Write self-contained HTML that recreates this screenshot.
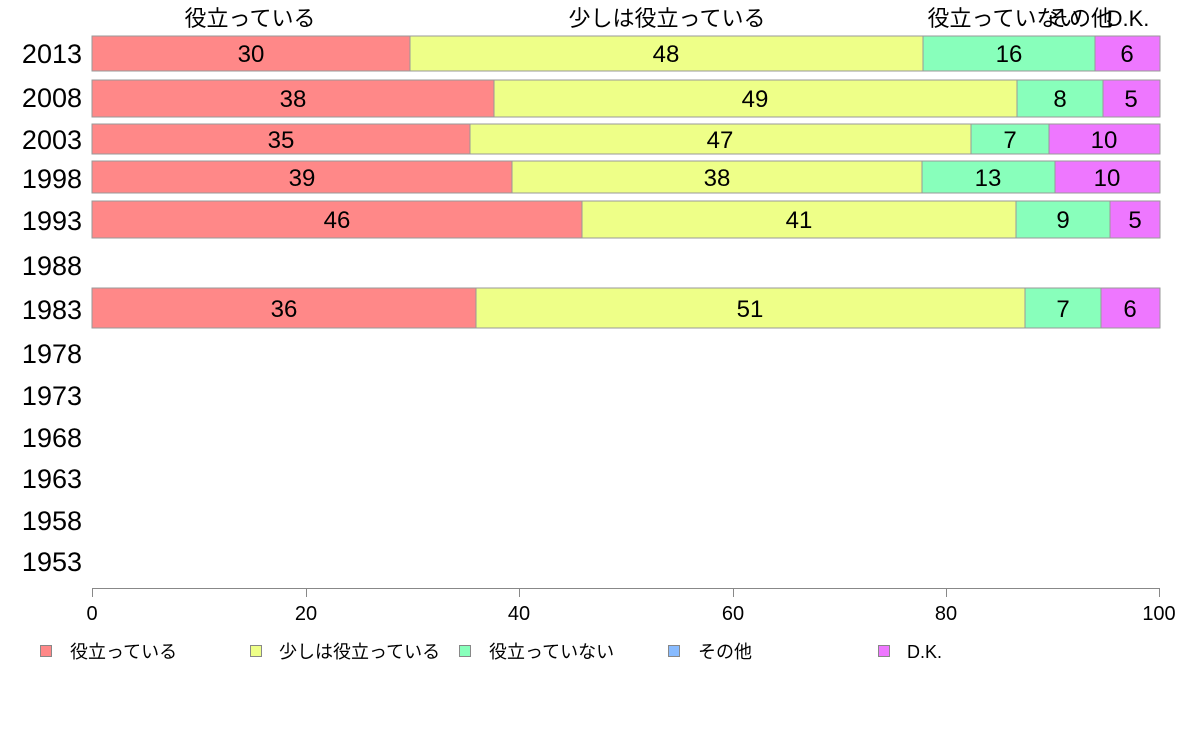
<!DOCTYPE html><html><head><meta charset="utf-8"><style>body{margin:0;background:#fff}</style></head><body>
<svg width="1188" height="736" xmlns="http://www.w3.org/2000/svg" font-family="'Liberation Sans','Noto Sans CJK JP',sans-serif">
<g font-size="22" text-anchor="middle" fill="#000">
<text x="250" y="26">役立っている</text><text x="667" y="26">少しは役立っている</text><text x="1004" y="26">役立っていない</text><text x="1080" y="26">その他</text><text x="1128" y="26">D.K.</text>
</g>
<g font-size="27" text-anchor="end" fill="#000">
<text x="82" y="63">2013</text><text x="82" y="107">2008</text><text x="82" y="149">2003</text><text x="82" y="188">1998</text><text x="82" y="230">1993</text><text x="82" y="275">1988</text><text x="82" y="319">1983</text><text x="82" y="363">1978</text><text x="82" y="405">1973</text><text x="82" y="447">1968</text><text x="82" y="488">1963</text><text x="82" y="530">1958</text><text x="82" y="571">1953</text>
</g>
<g stroke="#999" stroke-width="1">
<g transform="translate(0,36)"><rect x="92" width="318" height="35" fill="#ff8888"/><rect x="410" width="513" height="35" fill="#eeff88"/><rect x="923" width="172" height="35" fill="#88ffbb"/><rect x="1095" width="65" height="35" fill="#ee77ff"/></g>
<g transform="translate(0,80)"><rect x="92" width="402" height="37" fill="#ff8888"/><rect x="494" width="523" height="37" fill="#eeff88"/><rect x="1017" width="86" height="37" fill="#88ffbb"/><rect x="1103" width="57" height="37" fill="#ee77ff"/></g>
<g transform="translate(0,124)"><rect x="92" width="378" height="30" fill="#ff8888"/><rect x="470" width="501" height="30" fill="#eeff88"/><rect x="971" width="78" height="30" fill="#88ffbb"/><rect x="1049" width="111" height="30" fill="#ee77ff"/></g>
<g transform="translate(0,161)"><rect x="92" width="420" height="32" fill="#ff8888"/><rect x="512" width="410" height="32" fill="#eeff88"/><rect x="922" width="133" height="32" fill="#88ffbb"/><rect x="1055" width="105" height="32" fill="#ee77ff"/></g>
<g transform="translate(0,201)"><rect x="92" width="490" height="37" fill="#ff8888"/><rect x="582" width="434" height="37" fill="#eeff88"/><rect x="1016" width="94" height="37" fill="#88ffbb"/><rect x="1110" width="50" height="37" fill="#ee77ff"/></g>
<g transform="translate(0,288)"><rect x="92" width="384" height="40" fill="#ff8888"/><rect x="476" width="549" height="40" fill="#eeff88"/><rect x="1025" width="76" height="40" fill="#88ffbb"/><rect x="1101" width="59" height="40" fill="#ee77ff"/></g>
</g>
<g font-size="24" text-anchor="middle" fill="#000">
<text x="251" y="62">30</text><text x="666" y="62">48</text><text x="1009" y="62">16</text><text x="1127" y="62">6</text>
<text x="293" y="107">38</text><text x="755" y="107">49</text><text x="1060" y="107">8</text><text x="1131" y="107">5</text>
<text x="281" y="148">35</text><text x="720" y="148">47</text><text x="1010" y="148">7</text><text x="1104" y="148">10</text>
<text x="302" y="186">39</text><text x="717" y="186">38</text><text x="988" y="186">13</text><text x="1107" y="186">10</text>
<text x="337" y="228">46</text><text x="799" y="228">41</text><text x="1063" y="228">9</text><text x="1135" y="228">5</text>
<text x="284" y="317">36</text><text x="750" y="317">51</text><text x="1063" y="317">7</text><text x="1130" y="317">6</text>
</g>
<g stroke="#888" stroke-width="1"><line x1="92" y1="588.5" x2="1160" y2="588.5"/>
<line x1="92.5" y1="588" x2="92.5" y2="597"/><line x1="306.5" y1="588" x2="306.5" y2="597"/><line x1="519.5" y1="588" x2="519.5" y2="597"/><line x1="733.5" y1="588" x2="733.5" y2="597"/><line x1="946.5" y1="588" x2="946.5" y2="597"/><line x1="1159.5" y1="588" x2="1159.5" y2="597"/></g>
<g font-size="20" text-anchor="middle" fill="#000"><text x="92" y="620">0</text><text x="306" y="620">20</text><text x="519" y="620">40</text><text x="733" y="620">60</text><text x="946" y="620">80</text><text x="1159" y="620">100</text></g>
<g stroke="#888" stroke-width="1"><rect x="40.5" y="645.5" width="11" height="11" fill="#ff8888"/><rect x="250.5" y="645.5" width="11" height="11" fill="#eeff88"/><rect x="459.5" y="645.5" width="11" height="11" fill="#88ffbb"/><rect x="668.5" y="645.5" width="11" height="11" fill="#88bbff"/><rect x="878.5" y="645.5" width="11" height="11" fill="#ee77ff"/></g>
<g font-size="18" fill="#000"><text x="70" y="658">役立っている</text><text x="279" y="658">少しは役立っている</text><text x="489" y="658">役立っていない</text><text x="698" y="658">その他</text><text x="907" y="658">D.K.</text></g>
</svg></body></html>
